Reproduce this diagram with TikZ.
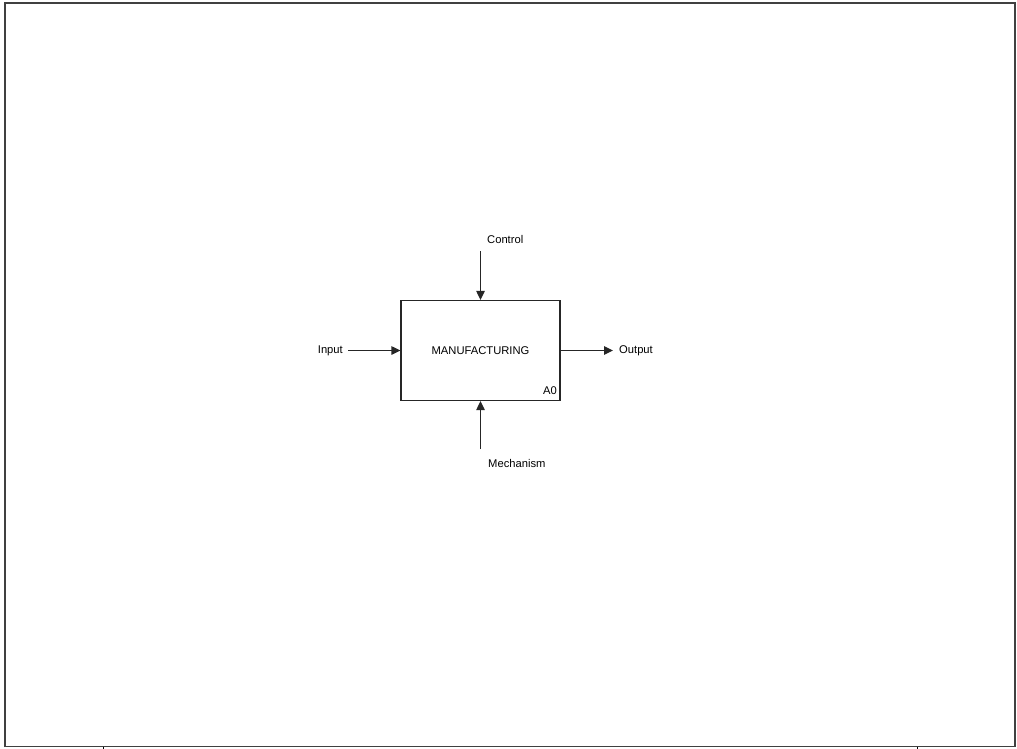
\documentclass[tikz,border=0pt]{standalone}
\usepackage{fontspec}
\setmainfont{Liberation Sans}
\usetikzlibrary{arrows.meta}
\begin{document}
\begin{tikzpicture}[x=1pt,y=-1pt,
  lbl/.style={inner sep=0pt,font=\fontsize{11.2}{13}\selectfont},
  activity/.style={draw=black!85,line width=1.2pt,minimum width=159pt,minimum height=100pt,inner sep=0pt},
  flow/.style={draw=black!85,line width=1.2pt,-{Triangle[length=9pt,width=8.5pt]}},
  frame/.style={draw=black!75,line width=1.6pt}]
\useasboundingbox (0,0) rectangle (1017,749);
% page frame with the footer rule and its two ticks
\draw[frame] (5,747) -- (5,3) -- (1015,3) -- (1015,747);
\draw[frame] (5,746.5) -- (1015,746.5);
\coordinate (tickA) at (103,746.5);
\coordinate (tickB) at (917,746.5);
\draw[black,line width=1pt] (tickA) -- ++(0,3);
\draw[black,line width=1pt] (tickB) -- ++(0,3);
% activity box
\node[activity] (mfg) at (480.5,350.5) {};
\node[lbl] (title) at (mfg.center) {MANUFACTURING};
\node[lbl,anchor=south east] (num) at ([xshift=-3.5pt,yshift=6pt]mfg.south east) {A0};
% ICOM labels
\node[lbl,anchor=west] (ctl) at (487,239) {Control};
\node[lbl,anchor=east] (inp) at (343,350.5) {Input};
\node[lbl,anchor=west] (out) at (619,350.5) {Output};
\node[lbl,anchor=west] (mech) at (488,463.5) {Mechanism};
% arrow ends
\coordinate (ctlS) at (480.5,251);
\coordinate (inpS) at (348,350.5);
\coordinate (outE) at (613,350.5);
\coordinate (mechS) at (480.5,449);
% arrows
\draw[flow] (ctlS) -- (mfg.north);
\draw[flow] (inpS) -- (mfg.west);
\draw[flow] (mfg.east) -- (outE);
\draw[flow] (mechS) -- (mfg.south);
\end{tikzpicture}
\end{document}
